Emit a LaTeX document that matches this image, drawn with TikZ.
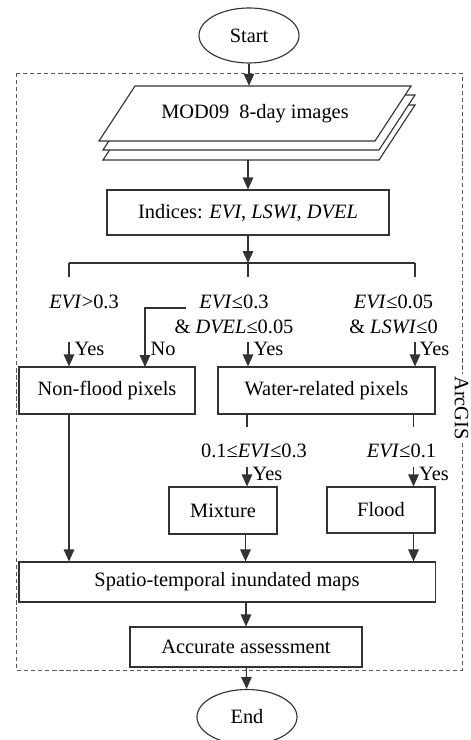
\documentclass[tikz,border=0pt]{standalone}
\usepackage{fontspec}
\setmainfont{Liberation Serif}
\usepackage{tikz}
\usetikzlibrary{arrows.meta, shapes.geometric, calc}
\definecolor{fInk}{HTML}{333333}

\begin{document}
\begin{tikzpicture}[x=0.025cm, y=-0.025cm, >={Triangle[length=8.5pt, width=7.5pt]},
    every node/.style={font=\fontsize{14.5}{17.7}\selectfont, text=black},
    box/.style={draw=fInk, line width=0.8pt, rectangle, inner sep=0pt, fill=white},
    term/.style={draw=fInk, line width=0.8pt, ellipse, inner sep=0pt,
      minimum width=2.5cm, minimum height=1.375cm},
    sheet/.style={draw=fInk, line width=0.8pt, fill=white},
    cond/.style={align=center, inner sep=1pt},
    yeslbl/.style={anchor=west, inner sep=1pt},
    link/.style={fInk, line width=0.8pt}]
  \useasboundingbox (0,0) rectangle (470,740);

  % ArcGIS frame
  \draw[black!65, line width=0.6pt, dash pattern=on 3pt off 2pt] (16.5,73) rectangle (462,670);
  \node[fill=white, rotate=-90, inner sep=1.5pt] (arcgis) at (461.5,408) {ArcGIS};

  % terminals
  \node[term] (start) at (249,35.5) {Start};
  \node[term] (stop) at (247,717) {End};

  % stack of images
  \coordinate (imgc) at (255,113.5);
  \foreach \dx/\dy in {4/19, 4/9, 0/0} {
    \draw[sheet] ($(imgc)+(\dx,\dy)$) +(-156,27.5) -- +(-120,-27.5)
      -- +(156,-27.5) -- +(120,27.5) -- cycle;
  }
  \node[inner sep=0pt, minimum width=6.9cm, minimum height=1.375cm] (imgs) at (imgc)
    {MOD09\ \ 8-day images};

  % boxes
  \node[box, minimum width=7.05cm, minimum height=1.125cm] (indices) at (248,212.5)
    {Indices: \textit{EVI}, \textit{LSWI}, \textit{DVEL}};
  \node[box, minimum width=4.4cm, minimum height=1.175cm] (nonflood) at (107,390.5)
    {Non-flood pixels};
  \node[box, minimum width=5.425cm, minimum height=1.175cm] (water) at (326.5,390.5)
    {Water-related pixels};
  \node[box, minimum width=2.7cm, minimum height=1.175cm] (mixture) at (223,510.5)
    {Mixture};
  \node[box, minimum width=2.7cm, minimum height=1.15cm] (flood) at (381,510)
    {Flood};
  \node[box, minimum width=10.4cm, minimum height=1cm] (maps) at (227,582)
    {Spatio-temporal inundated maps};
  \node[box, minimum width=5.8cm, minimum height=1cm] (assess) at (246,647)
    {Accurate assessment};

  % conditions
  \node[cond] (condA) at (84,302) {\textit{EVI}>0.3};
  \node[cond] (condB) at (234,314.5) {\textit{EVI}≤0.3\\\& \textit{DVEL}≤0.05};
  \node[cond] (condC) at (393.5,314.5) {\textit{EVI}≤0.05\\\& \textit{LSWI}≤0};
  \node[cond] (condD) at (254,451) {0.1≤\textit{EVI}≤0.3};
  \node[cond] (condE) at (401.5,451) {\textit{EVI}≤0.1};

  % branch points
  \coordinate (brL) at (69,263);
  \coordinate (brC) at (248,263);
  \coordinate (brR) at (415,263);
  \coordinate (yesA) at (69,342);
  \coordinate (yesB) at (248,342);
  \coordinate (yesC) at (415,342);
  \coordinate (noA) at (186,308);
  \coordinate (noB) at (145,367);
  \coordinate (yesD) at (247,467);
  \coordinate (yesE) at (413.5,467);

  % connectors
  \draw[link, ->] (start) -- (start |- imgs.north);
  \draw[link, ->] ($(indices.north |- imgs.south)+(0,19)$) -- (indices.north);
  \draw[link, ->] (indices) -- (brC);
  \draw[link] (brL) -- (brR);
  \foreach \b in {brL, brC, brR} \draw[link] (\b) -- ++(0,14.5);
  \draw[link, ->] (yesA) -- (yesA |- nonflood.north);
  \draw[link, ->] (noA) -| (noB);
  \draw[link, ->] (yesB) -- (yesB |- water.north);
  \draw[link, ->] (yesC) -- (yesC |- water.north);
  \draw[link] (yesD |- water.south) -- ++(0,12.5);
  \draw[link] (yesE |- water.south) -- ++(0,12.5);
  \draw[link, ->] (yesD) -- (yesD |- mixture.north);
  \draw[link, ->] (yesE) -- (yesE |- flood.north);
  \draw[link, ->] (yesA |- nonflood.south) -- (yesA |- maps.north);
  \draw[link, ->] (mixture.south -| 245.5,0) -- (maps.north -| 245.5,0);
  \draw[link, ->] (yesE |- flood.south) -- (yesE |- maps.north);
  \draw[link, ->] (maps.south -| assess) -- (assess);
  \draw[link, ->] (assess) -- (stop);

  % yes / no labels
  \node[yeslbl] (yA) at (73,349) {Yes};
  \node[yeslbl] (nA) at (149,349) {No};
  \node[yeslbl] (yB) at (252,349) {Yes};
  \node[yeslbl] (yC) at (418,349) {Yes};
  \node[yeslbl] (yD) at (251,474) {Yes};
  \node[yeslbl] (yE) at (417.5,474) {Yes};
\end{tikzpicture}
\end{document}
